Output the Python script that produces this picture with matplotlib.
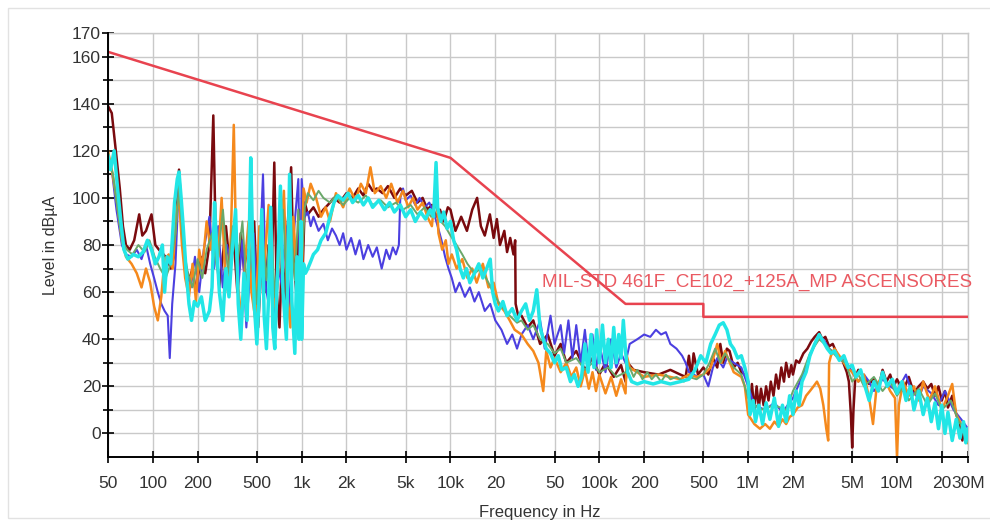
import matplotlib
matplotlib.use("Agg")
import matplotlib.pyplot as plt
from matplotlib.patches import Rectangle
from matplotlib.ticker import NullLocator, FixedLocator

plt.rcParams['font.family'] = ['Liberation Sans', 'DejaVu Sans']

# ---------------- data ----------------
limit_f = [50, 10000, 150000, 500000, 500000, 30e6]
limit_db = [162, 117, 55, 55, 49.5, 49.5]
limit_name = "MIL-STD 461F_CE102_+125A_MP ASCENSORES"

x_tick_pos = [50, 100, 200, 500, 1e3, 2e3, 5e3, 10e3, 20e3, 50e3, 100e3, 200e3, 500e3,
              1e6, 2e6, 5e6, 10e6, 20e6, 30e6]
x_tick_lab = ["50", "100", "200", "500", "1k", "2k", "5k", "10k", "20", "50", "100k", "200",
              "500", "1M", "2M", "5M", "10M", "20", "30M"]
y_major = [0, 20, 40, 60, 80, 100, 120, 140, 160, 170]
y_minor = [10, 30, 50, 70, 90, 110, 130, 150]

maroon_f = [50, 53, 56, 60, 63, 66, 70, 75, 81, 85, 90, 98, 104, 110, 118, 125, 132, 140, 150, 157,
            165, 175, 185, 195, 210, 225, 240, 255, 265, 280, 295, 310, 330, 350, 370, 390, 410, 430,
            455, 480, 510, 540, 570, 600, 630, 655, 680, 710, 740, 770, 800, 850, 880, 920, 960, 1000,
            1050, 1100, 1200, 1300, 1400, 1500, 1650, 1800, 2000, 2200, 2400, 2600, 2800, 3000, 3200,
            3500, 3800, 4200, 4600, 5000, 5500, 6000, 6500, 7000, 7500, 8000, 8500, 9000, 9600, 10000,
            10800, 11800, 12900, 14000, 15100, 16000, 17000, 18400, 19500, 20500, 21500, 23000, 24000,
            25200, 26500, 27200, 27400, 28500, 30e3, 33e3, 36e3, 40e3, 45e3, 50e3, 55e3, 60e3, 70e3,
            80e3, 90e3, 100e3, 110e3, 125e3, 140e3, 150e3, 155e3, 170e3, 200e3, 250e3, 300e3, 350e3,
            380e3, 400e3, 415e3, 430e3, 460e3, 500e3, 540e3, 580e3, 620e3, 650e3, 680e3, 720e3, 750e3,
            800e3, 850e3, 900e3, 950e3, 1.0e6, 1.03e6, 1.06e6, 1.1e6, 1.14e6, 1.18e6, 1.22e6, 1.27e6,
            1.32e6, 1.37e6, 1.42e6, 1.48e6, 1.54e6, 1.6e6, 1.67e6, 1.74e6, 1.8e6, 1.88e6, 1.95e6, 2.0e6,
            2.1e6, 2.2e6, 2.35e6, 2.5e6, 2.65e6, 2.8e6, 3.0e6, 3.15e6, 3.3e6, 3.5e6, 3.7e6, 4.0e6,
            4.3e6, 4.6e6, 4.75e6, 4.9e6, 5.0e6, 5.1e6, 5.25e6, 5.5e6, 6e6, 6.5e6, 7e6, 7.5e6, 8e6,
            8.5e6, 9e6, 9.5e6, 10e6, 11e6, 12e6, 13e6, 14e6, 15e6, 16e6, 17e6, 18e6, 19e6, 20e6, 21e6,
            22e6, 23.5e6, 25e6, 26.5e6, 27.5e6, 28.5e6, 30e6]
maroon_db = [139, 136, 122, 104, 88, 80, 78, 82, 93, 84, 86, 93, 80, 78, 76, 74, 70, 76, 112, 90,
             72, 65, 70, 60, 75, 68, 80, 135, 80, 62, 75, 88, 70, 82, 60, 85, 70, 78,
             65, 90, 45, 75, 60, 80, 70, 115, 60, 45, 78, 55, 85, 113, 75, 60, 95, 55,
             98, 93, 96, 92, 95, 97, 100, 98, 102, 100, 104, 101, 106, 103, 104,
             102, 105, 100, 104, 101, 103, 98, 100, 95, 97, 92, 95, 90, 96, 95,
             86, 92, 86, 95, 100, 88, 84, 93, 83, 91, 80, 86, 77,
             83, 76, 82, 55, 50, 50, 45, 48, 38, 42, 33, 38, 30, 35,
             27, 32, 25, 30, 24, 29, 22, 30, 27, 26, 25, 27, 25,
             24, 33, 24, 34, 25, 28, 25, 32, 28, 38, 30, 36, 35,
             28, 30, 26, 25, 22, 12, 21, 10, 20, 11, 19, 12,
             20, 14, 22, 16, 25, 19, 28, 22, 30, 24, 29, 25,
             31, 30, 34, 36, 39, 41, 43, 40, 41, 37, 38, 33,
             31, 26, 22, 8, -6, 10, 24, 27, 24, 21, 23, 19, 27,
             22, 25, 20, 23, 18, 24, 17, 20, 22, 19, 21, 16, 20, 14, 18,
             11, 16, 8, 4, -3, 2, -2]

blue_f = [50, 53, 57, 62, 66, 72, 78, 84, 90, 96, 102, 108, 114, 120, 126, 130, 135, 142, 150, 158,
          168, 180, 192, 205, 220, 240, 258, 275, 295, 315, 335, 355, 375, 400, 425, 450, 475, 500,
          525, 550, 575, 600, 630, 660, 700, 740, 780, 820, 860, 900, 950, 980, 1000,
          1050, 1100, 1150, 1200, 1300, 1400, 1500, 1600, 1700, 1800, 1900, 2000, 2150, 2300, 2450,
          2600, 2800, 3000, 3200, 3450, 3700, 3900, 4100, 4300, 4500, 4600, 4800, 5000, 5400, 5800,
          6200, 6700, 7200, 7700, 8200, 8700, 9200, 9700, 10200, 10800, 11500, 12500, 13500, 14500,
          15500, 17000, 18500, 20000, 22000, 24000, 26000, 28000, 30e3, 33e3, 36e3, 40e3, 43e3,
          47e3, 50e3, 55e3, 58e3, 62e3, 66e3, 70e3, 75e3, 80e3, 85e3, 90e3, 95e3, 100e3, 110e3,
          120e3, 130e3, 140e3, 150e3, 160e3, 180e3, 200e3, 220e3, 240e3, 260e3, 280e3, 300e3,
          330e3, 360e3, 380e3, 400e3, 430e3, 460e3, 500e3, 540e3, 580e3, 620e3, 680e3, 720e3,
          800e3, 900e3, 1e6, 1.1e6, 1.3e6, 1.5e6, 1.7e6, 2e6, 2.3e6, 2.6e6, 2.9e6, 3.2e6, 3.5e6,
          4e6, 4.5e6, 5e6, 5.5e6, 6e6, 6.5e6, 7e6, 8e6, 9e6, 10e6, 11.5e6, 12.5e6, 14e6, 15e6,
          17e6, 19e6, 21e6, 24e6, 27e6, 30e6]
blue_db = [115, 112, 95, 80, 76, 75, 78, 74, 80, 72, 66, 60, 55, 52, 50, 32, 55, 72, 108, 82,
           70, 62, 75, 60, 78, 92, 70, 88, 62, 80, 72, 90, 62, 82, 45, 68, 85, 60,
           78, 110, 62, 55, 80, 48, 70, 62, 88, 52, 75, 90, 108, 50, 108,
           92, 94, 88, 92, 86, 89, 82, 87, 84, 80, 85, 78, 83, 76, 82,
           74, 80, 75, 79, 70, 78, 74, 79, 76, 80, 100, 104, 99, 101, 97,
           100, 96, 98, 94, 88, 82, 75, 70, 66, 60, 64, 58, 62, 56,
           60, 52, 55, 48, 44, 38, 42, 36, 42, 46, 40, 48, 36,
           50, 38, 46, 34, 48, 32, 46, 30, 44, 28, 42, 27, 38, 26,
           40, 28, 34, 30, 38, 40, 42, 41, 44, 42, 43, 38,
           36, 33, 30, 26, 25, 24, 25, 20, 28, 32, 28, 32,
           30, 28, 20, 12, 10, 13, 9, 15, 24, 33, 40, 40, 36,
           33, 31, 26, 22, 25, 22, 18, 23, 20, 18, 25, 18, 15, 20,
           17, 12, 18, 10, 6, 2]

orange_f = [50, 53, 57, 62, 66, 72, 78, 84, 90, 96, 102, 108, 114, 120, 128, 136, 145, 150, 157, 165,
            175, 185, 195, 205, 215, 230, 245, 260, 275, 290, 305, 320, 335, 350, 360, 375, 395, 420,
            440, 460, 490, 520, 560, 600, 640, 680, 720, 760, 800, 840, 880, 920, 960, 1000,
            1030, 1080, 1150, 1250, 1350, 1450, 1550, 1700, 1900, 2100, 2300, 2500, 2700, 2900, 3100,
            3400, 3700, 4000, 4400, 4800, 5200, 5600, 6000, 6500, 7000, 7500, 8000, 8300, 8800, 9300,
            9700, 10200, 11000, 12000, 13000, 14000, 15000, 16500, 18000, 19500, 21000, 23000, 25000,
            27000, 30e3, 33e3, 36e3, 39e3, 42e3, 44e3, 47e3, 50e3, 55e3, 60e3, 65e3, 70e3, 75e3,
            80e3, 85e3, 90e3, 95e3, 100e3, 110e3, 120e3, 130e3, 140e3, 150e3, 153e3, 160e3, 180e3,
            200e3, 250e3, 300e3, 350e3, 400e3, 450e3, 500e3, 560e3, 620e3, 660e3, 700e3, 800e3,
            900e3, 950e3, 1e6, 1.1e6, 1.2e6, 1.3e6, 1.4e6, 1.5e6, 1.6e6, 1.7e6, 1.8e6, 1.9e6, 2.0e6,
            2.15e6, 2.3e6, 2.45e6, 2.6e6, 2.75e6, 2.9e6, 3.05e6, 3.2e6, 3.35e6, 3.45e6, 3.5e6,
            3.6e6, 3.8e6, 4.2e6, 4.6e6, 5e6, 5.5e6, 6e6, 6.5e6, 6.9e6, 7.3e6, 8e6, 9e6, 9.7e6, 10e6,
            10.3e6, 11e6, 12e6, 13e6, 14e6, 15e6, 16.5e6, 18e6, 20e6, 22e6, 23.5e6, 25e6, 27e6,
            29e6, 30e6]
orange_db = [120, 112, 100, 82, 75, 72, 68, 62, 70, 64, 54, 48, 58, 74, 76, 70, 95, 100, 80, 66,
             58, 72, 56, 78, 70, 90, 78, 88, 75, 100, 70, 60, 85, 131, 90, 62, 48, 75,
             90, 60, 48, 88, 70, 97, 52, 60, 82, 103, 58, 45, 92, 70, 62, 60,
             104, 98, 106, 100, 92, 96, 90, 102, 96, 104, 99, 106, 102, 113, 102,
             105, 100, 106, 98, 103, 96, 100, 95, 98, 92, 88, 106, 85, 78, 82,
             72, 76, 70, 74, 66, 70, 64, 72, 62, 64, 55, 52, 48,
             44, 42, 38, 35, 30, 18, 35, 28, 32, 26, 30, 24, 28, 20,
             27, 19, 26, 18, 25, 17, 24, 16, 23, 17, 33, 28, 26,
             24, 25, 24, 23, 25, 24, 25, 28, 38, 30, 35, 26,
             24, 20, 8, 4, 2, 4, 2, 5, 3, 6, 4, 7, 8,
             11, 12, 16, 18, 20, 22, 19, 12, 2, -3, 30,
             33, 36, 32, 28, 26, 22, 25, 15, 4, 20, 25, 18, 15, -10,
             12, 22, 16, 20, 14, 22, 14, 20, 10, 16, 21, 8, 4,
             -2, -4]

green_f = [50, 54, 58, 62, 67, 73, 80, 88, 95, 103, 112, 122, 132, 142, 150, 160, 172, 185, 200, 215,
           230, 250, 270, 296, 320, 345, 370, 400, 430, 460, 500, 540, 580, 620, 660, 700, 750, 800,
           850, 900, 950, 1000,
           1050, 1100, 1200, 1300, 1400, 1550, 1700, 1900, 2100, 2400, 2700, 3000, 3400, 3800, 4300,
           4800, 5400, 6000, 6700, 7400, 8000, 8600, 9200, 10000, 11000, 12000, 13000, 14500, 16000,
           18000, 20000, 22000, 25000, 28000, 30000, 33e3, 36e3, 40e3, 45e3, 50e3, 55e3, 60e3, 70e3,
           80e3, 90e3, 100e3, 115e3, 130e3, 150e3, 160e3, 170e3, 180e3, 195e3, 210e3, 225e3, 240e3,
           260e3, 280e3, 300e3, 330e3, 370e3, 400e3, 450e3, 500e3, 550e3, 600e3, 650e3, 700e3,
           800e3, 900e3, 1e6, 1.2e6, 1.5e6, 1.8e6, 2.0e6, 2.3e6, 2.6e6, 3.0e6, 3.4e6, 4e6, 4.5e6,
           5e6, 5.5e6, 6e6, 7e6, 8e6, 9e6, 10e6, 11e6, 12e6, 14e6, 16e6, 18e6, 20e6, 23e6, 26e6, 30e6]
green_db = [117, 110, 95, 82, 78, 76, 80, 77, 82, 75, 70, 66, 72, 85, 105, 80, 68, 62, 74, 66,
            78, 85, 70, 95, 68, 88, 72, 90, 60, 78, 55, 85, 65, 92, 58, 75, 95, 60,
            88, 65, 95, 70,
            96, 102, 99, 103, 100, 98, 101, 97, 100, 98, 101, 97, 99, 96, 98,
            95, 97, 93, 96, 92, 97, 90, 88, 84, 80, 76, 72, 68, 70,
            64, 58, 54, 50, 47, 48, 44, 46, 40, 38, 34, 36, 30, 32,
            27, 30, 26, 28, 24, 26, 28, 24, 27, 23, 26, 23, 25,
            22, 25, 23, 24, 22, 24, 23, 25, 30, 36, 30, 34,
            28, 25, 15, 10, 12, 10, 18, 25, 34, 40, 37, 32, 30,
            22, 25, 20, 24, 18, 22, 16, 20, 14, 19, 12, 17, 10, 14, 5, 0]

cyan_f = [50, 52, 55, 58, 61, 64, 68, 74, 80, 86, 92, 98, 104, 110, 116, 120, 125, 132, 140, 146,
          150, 155, 160, 167, 175, 182, 190, 200, 212, 225, 240, 250, 260, 268, 280, 295, 310, 325,
          340, 360, 375, 390, 410, 430, 445, 455, 465, 480, 500, 520, 540, 560, 580, 600, 620, 640,
          660, 690, 720, 750, 790, 830, 860, 900, 930, 960, 990, 1000,
          1030, 1060, 1100, 1150, 1200, 1280, 1350, 1450, 1550, 1650, 1750, 1900, 2050, 2200, 2400,
          2600, 2800, 3000, 3300, 3600, 3900, 4200, 4600, 5000, 5400, 5800, 6300, 6800, 7300, 7700,
          8000, 8200, 8600, 9000, 9500, 10000, 10500, 11000, 11600, 12200, 12800, 13500, 14500,
          15500, 16500, 17500, 18500, 19200, 20000, 21000, 22500, 24000, 26000, 28000, 30e3, 32e3,
          34e3, 36e3, 38e3, 40e3, 42e3, 44e3, 47e3, 50e3, 53e3, 56e3, 60e3, 64e3, 68e3, 72e3, 76e3,
          80e3, 84e3, 88e3, 92e3, 96e3, 100e3, 105e3, 110e3, 115e3, 120e3, 125e3, 130e3, 135e3,
          140e3, 145e3, 150e3, 155e3, 165e3, 180e3, 200e3, 230e3, 260e3, 300e3, 350e3, 400e3,
          440e3, 480e3, 520e3, 560e3, 600e3, 640e3, 680e3, 720e3, 760e3, 800e3, 850e3, 900e3,
          950e3, 1e6, 1.03e6, 1.08e6, 1.12e6, 1.18e6, 1.25e6, 1.32e6, 1.4e6, 1.5e6, 1.6e6, 1.7e6,
          1.8e6, 1.9e6, 2.0e6, 2.1e6, 2.2e6, 2.3e6, 2.45e6, 2.6e6, 2.8e6, 3.0e6, 3.2e6, 3.4e6,
          3.6e6, 3.8e6, 4.1e6, 4.4e6, 4.7e6, 5e6, 5.3e6, 5.7e6, 6.1e6, 6.5e6, 7e6, 7.5e6, 8e6,
          8.6e6, 9.3e6, 10e6, 10.8e6, 11.5e6, 12.3e6, 13e6, 14e6, 15e6, 16e6, 17e6, 18e6, 19e6,
          20e6, 21e6, 22e6, 23.5e6, 25e6, 26.5e6, 28e6, 29e6, 30e6]
cyan_db = [118, 112, 120, 104, 90, 78, 74, 76, 75, 77, 82, 78, 72, 75, 80, 60, 75, 72, 98, 108,
           111, 100, 88, 70, 55, 48, 56, 54, 58, 48, 52, 62, 98, 80, 60, 48, 70, 58,
           76, 95, 55, 40, 68, 48, 85, 117, 90, 55, 38, 60, 95, 50, 36, 58, 96, 45,
           36, 70, 105, 60, 40, 110, 56, 34, 75, 40, 90, 40,
           72, 68, 70, 73, 76, 78, 82, 85, 92, 98, 101, 99, 102, 98, 101,
           97, 100, 96, 99, 95, 98, 94, 97, 92, 95, 90, 94, 91, 95, 92,
           115, 96, 90, 94, 87, 90, 82, 78, 70, 66, 70, 64, 68,
           72, 66, 70, 74, 60, 55, 52, 56, 50, 53, 48, 52, 55,
           48, 52, 61, 45, 40, 36, 34, 30, 33, 27, 28, 22, 25, 20, 24,
           38, 26, 42, 28, 44, 30, 46, 30, 40, 28, 45, 30, 42,
           32, 48, 35, 26, 22, 21, 22, 21, 22, 21, 22, 23,
           27, 33, 30, 38, 42, 46, 47, 44, 38, 36, 32, 33,
           28, 22, 8, 14, 5, 12, 4, 13, 6, 15, 3, 12,
           5, 16, 8, 18, 12, 22, 26, 33, 38, 42, 39, 36,
           34, 35, 31, 33, 28, 29, 24, 27, 20, 14, 22, 18, 26,
           20, 23, 17, 22, 14, 20, 10, 18, 8, 15, 5, 13, 2,
           12, 0, 9, -3, 6, -2, 5, -4, 2]

series = [
    (maroon_f, maroon_db, "#7a0a0e", 1.8),
    (blue_f, blue_db, "#4b3fe0", 1.5),
    (orange_f, orange_db, "#f5891c", 1.8),
    (green_f, green_db, "#6aa86a", 1.4),
    (cyan_f, cyan_db, "#22e6e6", 2.5),
]

# ---------------- figure ----------------
W, H = 990, 523
fig = plt.figure(figsize=(W / 100, H / 100), dpi=100)
fig.patches.append(Rectangle((8 / W, 1 - 518 / H), 1.0, (518 - 8) / H, transform=fig.transFigure,
                             fill=False, edgecolor="#e2e2e2", linewidth=1.0))

ax = fig.add_axes([108 / W, 1 - 457 / H, (968 - 108) / W, (457 - 33) / H])
ax.set_xscale("log")
ax.set_xlim(50, 30e6)
ax.set_ylim(-10, 170)

for i, (f, d, c, lw) in enumerate(series):
    ax.plot(f, d, color=c, lw=lw, zorder=3 + i, solid_joinstyle="round")

ax.plot(limit_f, limit_db, color="#e8434f", lw=1.8, zorder=10)
ax.text(41.3e3, 64, limit_name, color="#ea5a62", fontsize=13.6, ha="left", va="center",
        clip_on=False, zorder=11)

ax.xaxis.set_major_locator(FixedLocator(x_tick_pos))
ax.xaxis.set_minor_locator(NullLocator())
ax.set_xticklabels(x_tick_lab)
ax.yaxis.set_major_locator(FixedLocator(y_major))
ax.yaxis.set_minor_locator(FixedLocator(y_minor))

ax.grid(True, which="major", axis="x", color="#c9c9c9", lw=1.0)
ax.grid(True, which="both", axis="y", color="#c9c9c9", lw=1.0)
ax.set_axisbelow(True)

for s in ["top", "right"]:
    ax.spines[s].set_color("#c9c9c9")
    ax.spines[s].set_linewidth(1.0)
for s in ["left", "bottom"]:
    ax.spines[s].set_color("black")
    ax.spines[s].set_linewidth(1.4)
    ax.spines[s].set_zorder(12)

ax.tick_params(axis="both", which="major", direction="inout", length=8, width=1.2,
               colors="black", labelcolor="#333333", labelsize=12.5)
ax.tick_params(axis="y", which="minor", direction="inout", length=7, width=1.2, colors="black")
ax.tick_params(axis="x", which="major", pad=10)
ax.tick_params(axis="y", which="major", pad=1)

fig.text(50 / W, 1 - 245 / H, "Level in dB\u00b5A", rotation=90, ha="center", va="center",
         fontsize=11.5, color="#333333")
fig.text(540 / W, 1 - 512 / H, "Frequency in Hz", ha="center", va="center",
         fontsize=12, color="#333333")

fig.savefig("out.png", dpi=100, facecolor="white")
